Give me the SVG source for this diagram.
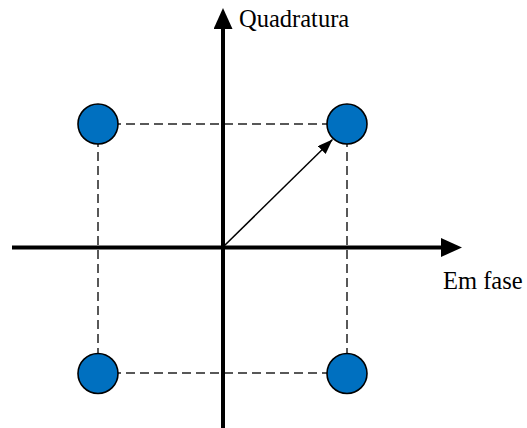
<svg xmlns="http://www.w3.org/2000/svg" width="527" height="428" viewBox="0 0 527 428">
  <style>
    .dash { stroke: #222; stroke-width: 1.5; stroke-dasharray: 9 5; fill: none; }
    .axis { stroke: #000; stroke-width: 4; fill: none; }
    .pt { fill: #0070C0; stroke: #000; stroke-width: 1.6; }
    .lbl { font-family: "Liberation Serif", "Times New Roman", serif; font-size: 24.5px; fill: #000; }
  </style>
  <defs>
    <marker id="axisHead" markerUnits="userSpaceOnUse" viewBox="0 0 21 19" markerWidth="21" markerHeight="19" refX="0" refY="9.5" orient="auto">
      <path d="M0,0 L21,9.5 L0,19 z" fill="#000"/>
    </marker>
    <marker id="vecHead" markerUnits="userSpaceOnUse" viewBox="0 0 15 11" markerWidth="15" markerHeight="11" refX="15" refY="5.5" orient="auto">
      <path d="M0,0 L15,5.5 L0,11 z" fill="#000"/>
    </marker>
  </defs>
  <rect width="527" height="428" fill="#fff"/>
  <g id="connectors">
    <path class="dash" d="M98,124 H347 M98,124 V373 M347,124 V373 M98,373 H347"/>
    <line class="axis" x1="12" y1="247.5" x2="441" y2="247.5" marker-end="url(#axisHead)"/>
    <line class="axis" x1="223" y1="428" x2="223" y2="29" marker-end="url(#axisHead)"/>
    <line x1="223" y1="247" x2="332.5" y2="139.5" stroke="#000" stroke-width="1.5" marker-end="url(#vecHead)"/>
  </g>
  <g id="p1"><circle class="pt" cx="98" cy="124" r="20"/></g>
  <g id="p2"><circle class="pt" cx="347" cy="124" r="20"/></g>
  <g id="p3"><circle class="pt" cx="98" cy="373.5" r="20"/></g>
  <g id="p4"><circle class="pt" cx="347" cy="373.5" r="20"/></g>
  <g id="label-quad"><text class="lbl" x="239" y="27">Quadratura</text></g>
  <g id="label-fase"><text class="lbl" x="443" y="289">Em fase</text></g>
</svg>
